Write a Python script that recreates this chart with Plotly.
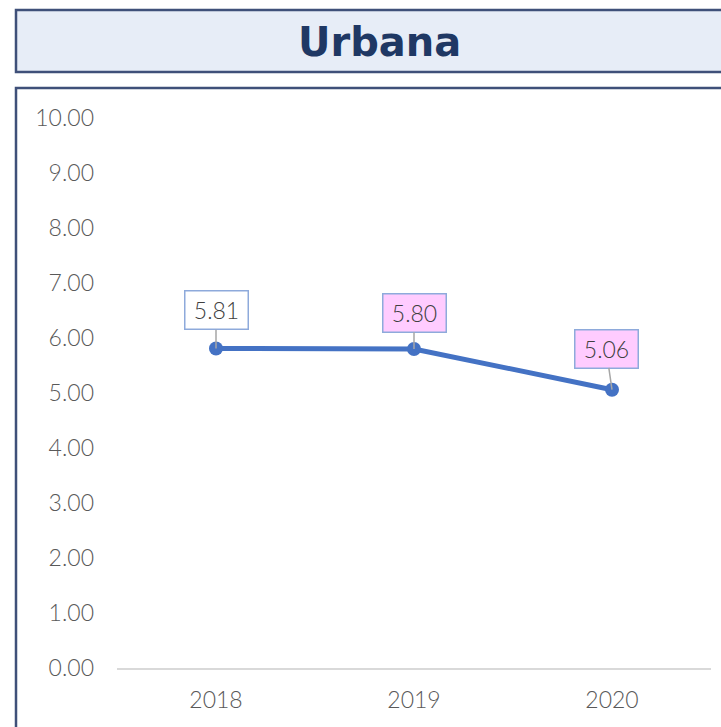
import plotly.graph_objects as go

years = ["2018", "2019", "2020"]
values = [5.81, 5.80, 5.06]
label_text = ["5.81", "5.80", "5.06"]
label_fill = ["#ffffff", "#ffccff", "#ffccff"]
label_dx = [0, 0, -6]
label_dy = [-38, -36, -41]
y_ticks = [0, 1, 2, 3, 4, 5, 6, 7, 8, 9, 10]
title_text = "Urbana"

W, H = 721, 727
L, R, T, B = 117, 10, 118, 59
pw, ph = W - L - R, H - T - B

def px(x):
    return (x - L) / pw

def py(y):
    return (H - B - y) / ph

FONT = "Lato"

fig = go.Figure()
fig.add_trace(go.Scatter(
    x=years, y=values, mode="lines+markers",
    line=dict(color="#4472c4", width=5),
    marker=dict(color="#4472c4", size=14),
    hoverinfo="skip", showlegend=False,
))

annotations = []
for i, (v, t, fill, dx, dy) in enumerate(zip(values, label_text, label_fill, label_dx, label_dy)):
    annotations.append(dict(
        x=i, y=v, xref="x", yref="y", text=t,
        showarrow=True, arrowhead=0, arrowwidth=1.5, arrowcolor="#a6a6a6",
        ax=dx, ay=dy, bgcolor=fill, bordercolor="#8eaadb", borderwidth=1.5,
        width=58, height=33, borderpad=2,
        font=dict(family=FONT, size=23, color="#404040", weight=300),
    ))

annotations.append(dict(
    x=px(379), y=py(42), xref="paper", yref="paper", text="<b>" + title_text + "</b>",
    showarrow=False, xanchor="center", yanchor="middle",
    font=dict(family="DejaVu Sans", size=40, color="#1f3864"),
))

shapes = [
    dict(type="rect", xref="paper", yref="paper", x0=px(16), x1=px(740), y0=py(72), y1=py(10),
         line=dict(color="#3f5079", width=2.5), fillcolor="#e7edf7", layer="below"),
    dict(type="rect", xref="paper", yref="paper", x0=px(16), x1=px(740), y0=py(760), y1=py(88),
         line=dict(color="#3f5079", width=2.5), fillcolor="rgba(0,0,0,0)", layer="below"),
]

fig.update_layout(
    width=W, height=H,
    margin=dict(l=L, r=R, t=T, b=B),
    paper_bgcolor="white", plot_bgcolor="white",
    annotations=annotations, shapes=shapes,
    xaxis=dict(type="category", showgrid=False, showline=True, linecolor="#d9d9d9", linewidth=1.5,
               ticks="", tickfont=dict(family=FONT, size=23, color="#595959", weight=300),
               ticklabelstandoff=11, zeroline=False, range=[-0.5, 2.5]),
    yaxis=dict(range=[0, 10], tickvals=y_ticks, ticktext=[f"{v:.2f}" for v in y_ticks],
               showgrid=False, showline=False, zeroline=False, ticks="",
               tickfont=dict(family=FONT, size=23, color="#595959", weight=300), ticklabelstandoff=22),
)

fig.write_html("out.html", config={"displayModeBar": False},
               post_script="document.body.style.margin='0';document.body.style.overflow='hidden';")
